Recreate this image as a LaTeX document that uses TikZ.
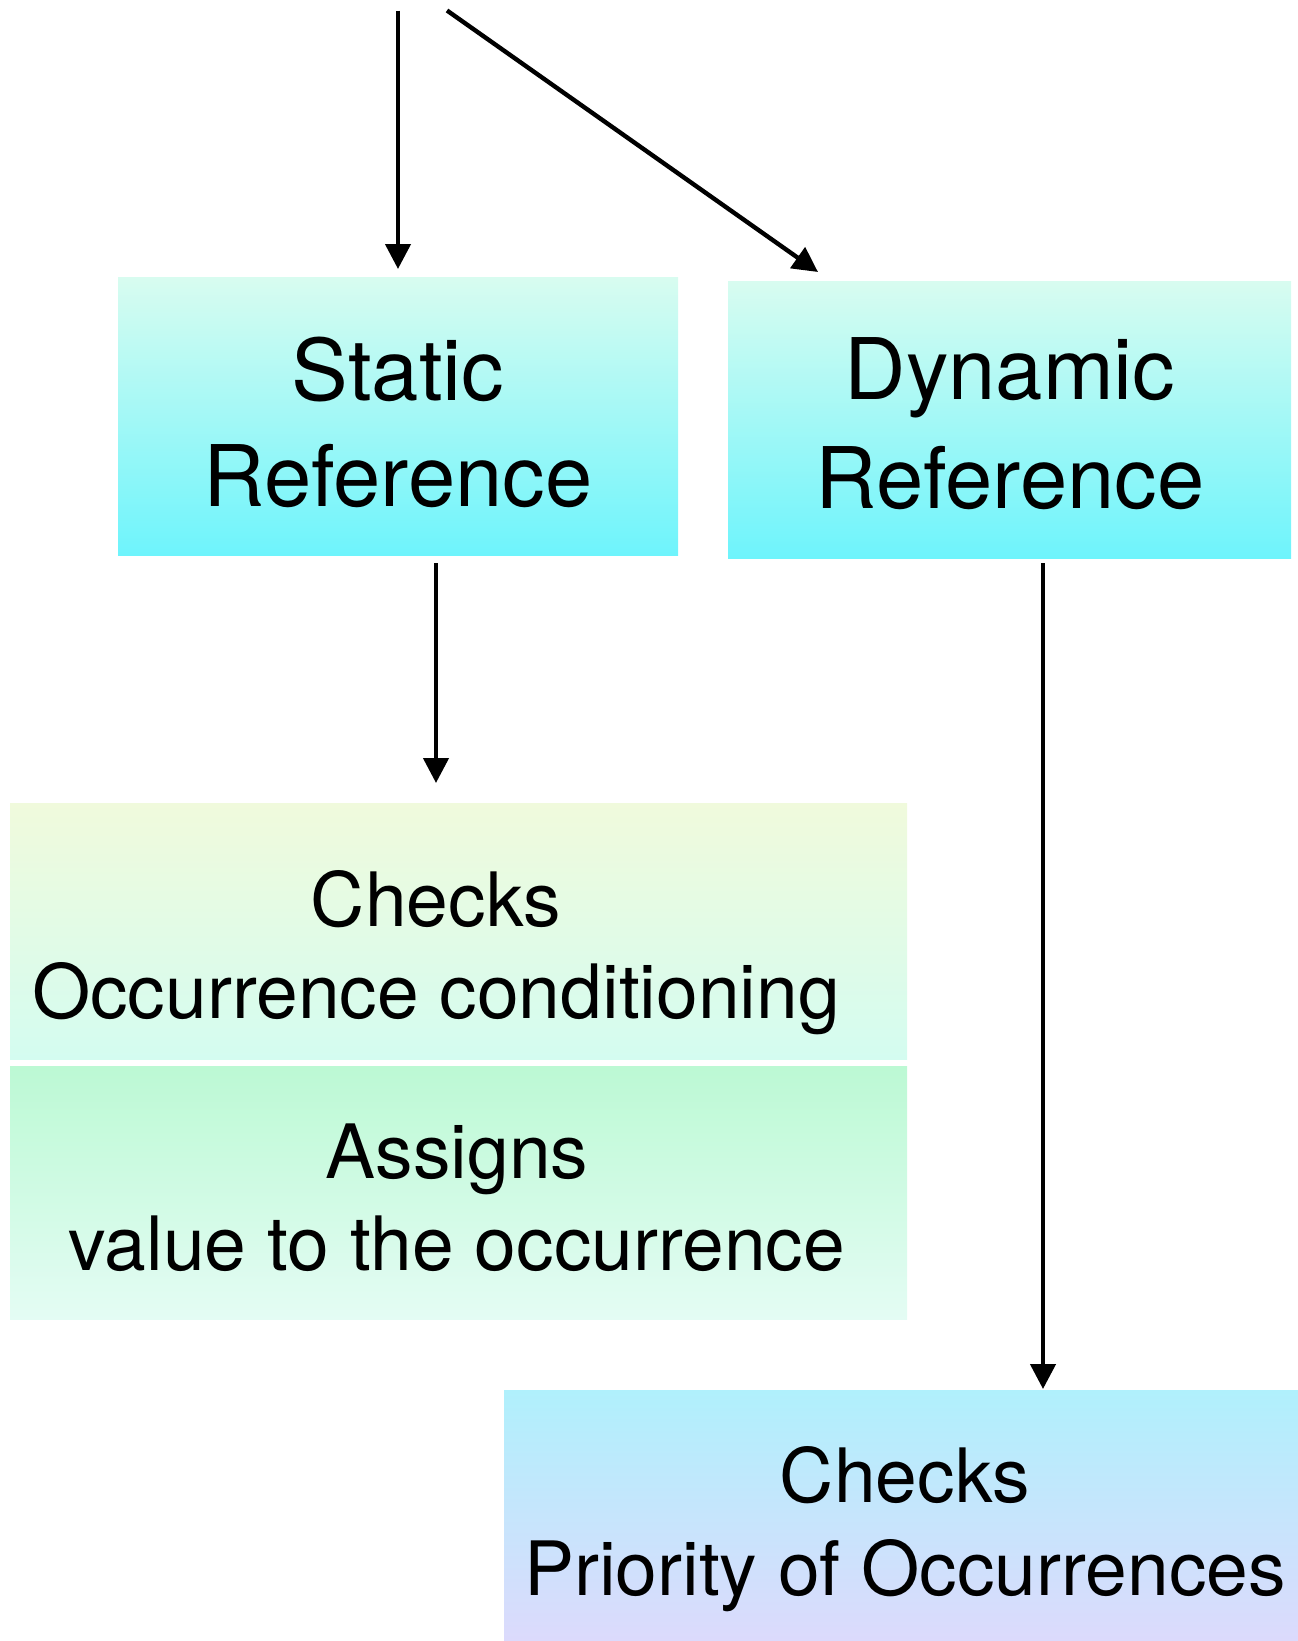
\documentclass[tikz,border=0pt]{standalone}
\usepackage{fontspec}
\setmainfont{TeX Gyre Heros}
\usetikzlibrary{arrows.meta,shadings}
\begin{document}
\begin{tikzpicture}[x=1pt,y=-1pt,
  box/.style={rectangle,inner sep=0pt,anchor=north west},
  big/.style={font=\fontsize{85}{100}\selectfont,anchor=base,inner sep=0pt},
  small/.style={font=\fontsize{75}{90}\selectfont,anchor=base,inner sep=0pt},
  arr/.style={line width=4.4pt,-{Triangle[length=25pt,width=25pt]}}]
\useasboundingbox (0,0) rectangle (1298,1641);

% boxes
\node[box,minimum width=560pt,minimum height=278pt,top color={rgb,255:red,216;green,252;blue,240},bottom color={rgb,255:red,110;green,244;blue,252}] (static) at (118,277) {};
\node[box,minimum width=563pt,minimum height=277pt,top color={rgb,255:red,216;green,252;blue,240},bottom color={rgb,255:red,110;green,244;blue,252}] (dynamic) at (728,281) {};
\node[box,minimum width=897pt,minimum height=256pt,top color={rgb,255:red,240;green,250;blue,220},bottom color={rgb,255:red,212;green,252;blue,240}] (chk) at (10,803) {};
\node[box,minimum width=897pt,minimum height=253pt,top color={rgb,255:red,188;green,249;blue,212},bottom color={rgb,255:red,228;green,252;blue,244}] (asg) at (10,1066) {};
\node[box,minimum width=794pt,minimum height=251pt,top color={rgb,255:red,176;green,240;blue,252},bottom color={rgb,255:red,220;green,218;blue,252}] (pri) at (504,1390) {};

% labels
\node[big] (st1) at (398,400) {Static};
\node[big] (st2) at (398,506) {Reference};
\node[big] (dy1) at (1010,399) {Dynamic};
\node[big] (dy2) at (1010,508) {Reference};
\node[small] (ck1) at (436,926) {Checks};
\node[small] (ck2) at (436,1018) {Occurrence conditioning};
\node[small] (as1) at (457,1178) {Assigns};
\node[small] (as2) at (457,1270) {value to the occurrence};
\node[small] (pr1) at (905,1502) {Checks};
\node[small] (pr2) at (905,1595) {Priority of Occurrences};

% free ends of the two incoming arrows
\coordinate (in1) at (398,10.5);
\coordinate (in2) at (447,10.5);
\coordinate (t2) at (818,272);

% connectors
\draw[arr,shorten >=8pt] (in1) -- (static.north -| in1);
\draw[arr] (in2) -- (t2);
\draw[arr,shorten <=8pt,shorten >=20pt] (static.south -| ck1) -- (chk.north -| ck1);
\draw[arr,shorten <=5pt,shorten >=1pt] (dynamic.south -| 1043,0) -- (pri.north -| 1043,0);
\end{tikzpicture}
\end{document}
